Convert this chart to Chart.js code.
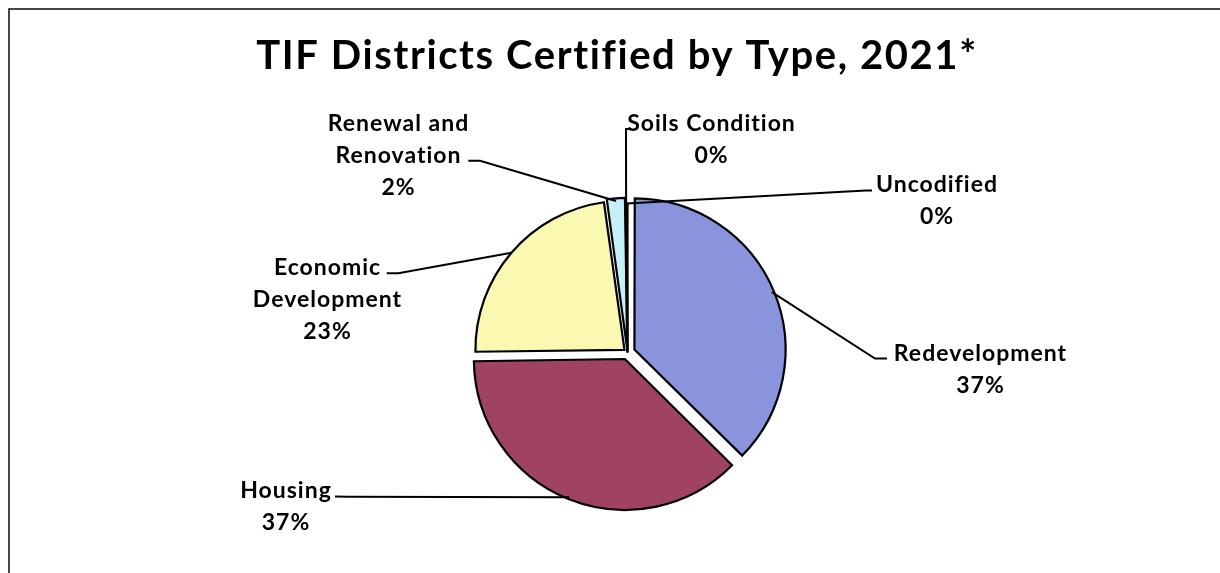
<!DOCTYPE html>
<html><head><meta charset="utf-8">
<script src="https://cdn.jsdelivr.net/npm/chart.js@4/dist/chart.umd.min.js"></script>
<style>html,body{margin:0;padding:0;background:#fff;overflow:hidden}#wrap{width:1220px;height:573px;position:relative}</style>
</head><body><div id="wrap"><canvas id="c" width="1220" height="573"></canvas></div>
<script>
// ---- data ----
const chartTitle = "TIF Districts Certified by Type, 2021*";
const categories = ["Redevelopment", "Housing", "Economic Development", "Renewal and Renovation", "Soils Condition", "Uncodified"];
const shares = [37.4, 37.4, 23.0, 2.0, 0.1, 0.1];

// ---- styles / layout ----
const sliceColors = ["#8A94DC", "#A04264", "#FBF8B2", "#C6F0F8", "#F2DDB0", "#DADADA"];
const sliceExplode = [30, 28, 16, 12, 0, 0];
const FONT_FAMILY = "Lato, 'Liberation Sans', sans-serif";
const LABEL_FONT = "bold 23px " + FONT_FAMILY;
const TITLE_FONT = "bold 40px " + FONT_FAMILY;
const LINE_H = 32;
// per label: text centre x, first baseline y, wrap width, tick (x1,y1)->(x2,y2) then straight to slice
const labelLayout = [
  {x: 980,   y: 360.5, wrap: 200, tick: [887, 358.5, 875, 358.5]},
  {x: 285.5, y: 497.8, wrap: 200, tick: [335, 496.5, 347, 496.7]},
  {x: 327,   y: 274.5, wrap: 180, tick: [386.7, 273.3, 398.3, 273.3]},
  {x: 398,   y: 130.8, wrap: 180, tick: [468.3, 160.7, 480, 160.7]},
  {x: 711,   y: 130.8, wrap: 220, tick: [630.5, 129, 626, 129]},
  {x: 936.5, y: 191.8, wrap: 220, tick: [872, 190.5, 866, 190.6]}
];
const PIE_CX = 627.5, PIE_CY = 352.5, PIE_R = 149;

function wrapText(ctx, text, maxW) {
  const words = text.split(" ");
  const lines = [];
  let cur = "";
  for (const w of words) {
    const t = cur ? cur + " " + w : w;
    if (cur && ctx.measureText(t).width > maxW) { lines.push(cur); cur = w; }
    else cur = t;
  }
  if (cur) lines.push(cur);
  return lines;
}

const decor = {
  id: "decor",
  afterDraw(chart) {
    const ctx = chart.ctx;
    const total = shares.reduce((a, b) => a + b, 0);
    ctx.save();
    // frame
    ctx.strokeStyle = "#1a1a1a";
    ctx.lineWidth = 1.6;
    ctx.strokeRect(9, 9, 1300, 700);
    // title
    ctx.fillStyle = "#000";
    ctx.font = TITLE_FONT;
    ctx.letterSpacing = "1.6px";
    ctx.textAlign = "center";
    ctx.textBaseline = "alphabetic";
    ctx.fillText(chartTitle, 617, 69);
    // labels + leaders
    const meta = chart.getDatasetMeta(0);
    ctx.font = LABEL_FONT;
    ctx.letterSpacing = "1px";
    meta.data.forEach((arc, i) => {
      const L = labelLayout[i];
      const p = arc.getProps(["x", "y", "startAngle", "endAngle", "outerRadius"], true);
      const mid = (p.startAngle + p.endAngle) / 2;
      const off = (sliceExplode[i] || 0) / 4;
      const ax = p.x + Math.cos(mid) * (off + p.outerRadius);
      const ay = p.y + Math.sin(mid) * (off + p.outerRadius);
      ctx.strokeStyle = "#000";
      ctx.lineWidth = 2;
      ctx.beginPath();
      ctx.moveTo(L.tick[0], L.tick[1]);
      ctx.lineTo(L.tick[2], L.tick[3]);
      ctx.lineTo(ax, ay);
      ctx.stroke();
      const pct = Math.round(shares[i] / total * 100) + "%";
      const lines = wrapText(ctx, categories[i], L.wrap).concat([pct]);
      ctx.fillStyle = "#000";
      lines.forEach((ln, k) => ctx.fillText(ln, L.x + 0.5, L.y + k * LINE_H));
    });
    ctx.restore();
  }
};

new Chart(document.getElementById("c"), {
  type: "pie",
  data: {
    labels: categories,
    datasets: [{
      data: shares,
      backgroundColor: sliceColors,
      borderColor: "#000",
      borderWidth: 2.2,
      borderJoinStyle: "miter",
      offset: sliceExplode,
      hoverOffset: 0
    }]
  },
  options: {
    responsive: false,
    devicePixelRatio: 1,
    animation: false,
    radius: PIE_R,
    layout: {padding: {left: PIE_CX - 200, right: 1220 - (PIE_CX + 200), top: PIE_CY - 200, bottom: 573 - (PIE_CY + 200)}},
    plugins: {legend: {display: false}, tooltip: {enabled: false}, title: {display: false}}
  },
  plugins: [decor]
});
</script>
</body></html>
